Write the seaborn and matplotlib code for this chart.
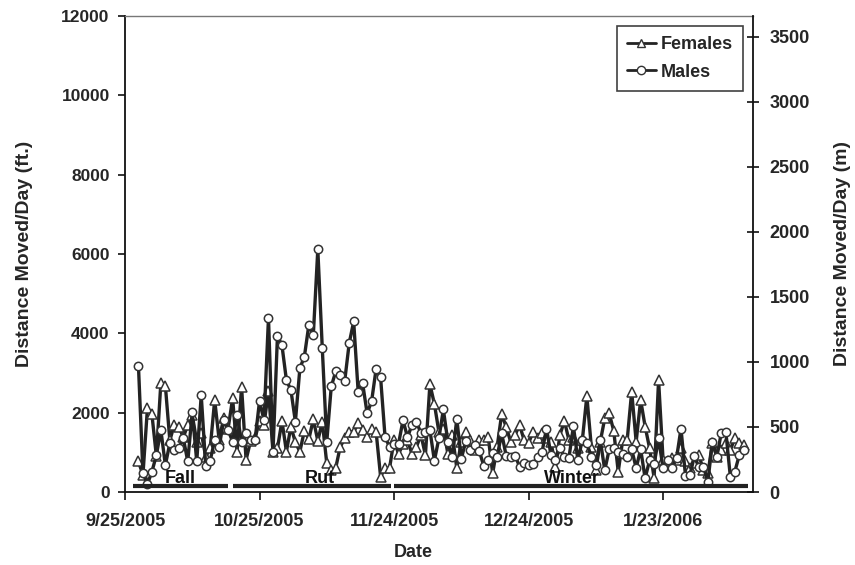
import numpy as np
import pandas as pd
import matplotlib
matplotlib.use("Agg")
import matplotlib.pyplot as plt
import matplotlib.dates as mdates
from matplotlib.lines import Line2D
from matplotlib.ticker import FuncFormatter
import seaborn as sns

sns.set_theme(style="white")
plt.rcParams['font.family'] = ['Liberation Sans', 'DejaVu Sans']
plt.rcParams['font.weight'] = 'bold'

# ---- data (feet per day), daily from 9/28/2005 ----
start_date = "2005-09-28"
males = [3180, 480, 200, 510, 930, 1560, 680, 1230, 1060, 1100,
         1360, 770, 2020, 770, 2440, 660, 790, 1310, 1130, 1810,
         1560, 1270, 1940, 1270, 1480, 1310, 1310, 2290, 1810, 4390,
         1000, 3940, 3700, 2820, 2570, 1770, 3120, 3410, 4210, 3960,
         6120, 3620, 1270, 2660, 3040, 2950, 2800, 3750, 4300, 2530,
         2740, 1980, 2290, 3100, 2890, 1380, 1140, 1200, 1210, 1810,
         1380, 1690, 1770, 1480, 1520, 1560, 790, 1350, 2080, 1270,
         890, 1840, 830, 1290, 1060, 1180, 1040, 660, 810, 990,
         890, 1480, 920, 890, 920, 640, 720, 680, 700, 890,
         1000, 1600, 930, 810, 1100, 890, 850, 1660, 810, 1310,
         1230, 890, 680, 1310, 550, 1080, 1100, 1020, 970, 890,
         1080, 600, 1080, 345, 800, 700, 1350, 600, 810, 600,
         850, 1600, 410, 430, 910, 620, 640, 260, 1270, 890,
         1500, 1520, 390, 510, 930, 1060]
females = [770, 430, 2110, 1960, 900, 2760, 2680, 1300, 1700, 1650,
           1380, 1690, 1940, 1270, 1500, 890, 1100, 2320, 1310, 1860,
           1600, 2360, 1000, 2650, 810, 1280, 1350, 1800, 1700, 2550,
           1020, 1100, 1790, 1020, 1650, 1250, 1020, 1540, 1330, 1830,
           1290, 1770, 720, 550, 610, 1140, 1350, 1520, 1520, 1730,
           1560, 1390, 1600, 1520, 390, 600, 600, 1310, 960, 1200,
           1310, 960, 1140, 1440, 930, 2720, 2220, 1520, 1600, 970,
           1440, 600, 1270, 1520, 1310, 1060, 1310, 1310, 1390, 470,
           1140, 1960, 1650, 1270, 1440, 1690, 1310, 1230, 1520, 1350,
           1500, 1350, 1270, 620, 1440, 1790, 1310, 1390, 1100, 1310,
           2420, 1140, 550, 1270, 1860, 1980, 1540, 510, 1310, 1310,
           2530, 1270, 2320, 1650, 1100, 360, 2820, 810, 770, 850,
           810, 1100, 770, 600, 720, 930, 550, 470, 1230, 890,
           1060, 1230, 1060, 1350, 1230, 1180]

season_names = ["Fall", "Rut", "Winter"]
season_starts = ["2005-09-26 18:00", "2005-10-19 00:00", "2005-11-24 00:00"]
season_ends = ["2005-10-18 00:00", "2005-11-23 06:00", "2006-02-10 20:00"]
season_label_dates = ["2005-10-07 06:00", "2005-11-07 12:00", "2006-01-02 18:00"]
season_level = 150
season_label_level = 230

x_ticks = ["2005-09-25", "2005-10-25", "2005-11-24", "2005-12-24", "2006-01-23"]
x_min, x_max = "2005-09-25", "2006-02-12"

dates = pd.date_range(start_date, periods=len(males), freq="D")
df = pd.DataFrame({"Date": list(dates) * 2,
                   "Distance": males + females,
                   "Sex": ["Males"] * len(males) + ["Females"] * len(females)})

fig = plt.figure(figsize=(8.55, 5.65), dpi=100)
ax = fig.add_axes([0.1462, 0.1292, 0.7342, 0.8425])

line_col = "#232323"
sns.lineplot(data=df[df.Sex == "Females"], x="Date", y="Distance", ax=ax,
             color=line_col, lw=2.4, marker="^", markersize=6.5,
             markerfacecolor="white", markeredgecolor="#333333",
             markeredgewidth=1.1, estimator=None, zorder=3)
sns.lineplot(data=df[df.Sex == "Males"], x="Date", y="Distance", ax=ax,
             color=line_col, lw=2.4, marker="o", markersize=6,
             markerfacecolor="white", markeredgecolor="#333333",
             markeredgewidth=1.1, estimator=None, zorder=4)

# season bars
for name, s, e, lab in zip(season_names, season_starts, season_ends, season_label_dates):
    ax.plot([pd.Timestamp(s), pd.Timestamp(e)], [season_level, season_level],
            color="#222222", lw=3, solid_capstyle="butt", zorder=5)
    ax.text(pd.Timestamp(lab), season_label_level, name, ha="center", va="baseline",
            fontsize=13, fontweight="bold", color="#111111", zorder=6)

ax.set_xlim(pd.Timestamp(x_min), pd.Timestamp(x_max))
ax.set_ylim(0, 12000)
ax.set_yticks(np.arange(0, 12001, 2000))
ax.set_xticks([pd.Timestamp(t) for t in x_ticks])
ax.xaxis.set_major_formatter(FuncFormatter(
    lambda v, p: (lambda d: f"{d.month}/{d.day}/{d.year}")(mdates.num2date(v))))

ax.set_xlabel("Date", fontsize=13, fontweight="bold")
ax.xaxis.set_label_coords(0.459, -0.110)
ax.set_ylabel("Distance Moved/Day (ft.)", fontsize=14, fontweight="bold")
ax.yaxis.set_label_coords(-0.147, 0.5)

for sp in ["left", "bottom"]:
    ax.spines[sp].set_color("#111111")
    ax.spines[sp].set_linewidth(1.3)
ax.spines["top"].set_color("#777777")
ax.spines["top"].set_linestyle((0, (1, 1)))
ax.spines["top"].set_linewidth(1.0)
ax.spines["right"].set_visible(False)

ax.tick_params(axis="x", direction="out", length=6, width=1.2, color="#111111",
               labelsize=13, pad=9, bottom=True)
ax.tick_params(axis="y", direction="out", length=5, width=1.2, color="#111111",
               labelsize=12.5, pad=6, left=True)
for lab in ax.get_xticklabels() + ax.get_yticklabels():
    lab.set_fontweight("bold")

ax2 = ax.twinx()
ax2.set_ylim(0, 12000 * 0.3048)
ax2.set_yticks(np.arange(0, 3501, 500))
ax2.grid(False)
ax.grid(False)
ax2.spines["right"].set_color("#111111")
ax2.spines["right"].set_linewidth(1.3)
for sp in ["left", "top", "bottom"]:
    ax2.spines[sp].set_visible(False)
ax2.tick_params(axis="y", direction="inout", length=8, width=1.2, color="#111111",
                labelsize=13, pad=8, right=True)
for lab in ax2.get_yticklabels():
    lab.set_fontweight("bold")
ax2.set_ylabel("Distance Moved/Day (m)", fontsize=14, fontweight="bold")
ax2.yaxis.set_label_coords(1.130, 0.5)

handles = [Line2D([], [], color=line_col, lw=2, marker="^", markersize=6,
                  markerfacecolor="white", markeredgecolor="#333333"),
           Line2D([], [], color=line_col, lw=2, marker="o", markersize=6,
                  markerfacecolor="white", markeredgecolor="#333333")]
leg = ax.legend(handles, ["Females", "Males"], loc="upper right",
                bbox_to_anchor=(0.9845, 0.979), borderaxespad=0, frameon=True,
                fancybox=False, handlelength=1.6, handletextpad=0.3,
                borderpad=0.55, labelspacing=0.6,
                prop={"weight": "bold", "size": 13})
leg.get_frame().set_edgecolor("#111111")
leg.get_frame().set_linewidth(1.2)

fig.savefig("out.png", dpi=100, facecolor="white")
